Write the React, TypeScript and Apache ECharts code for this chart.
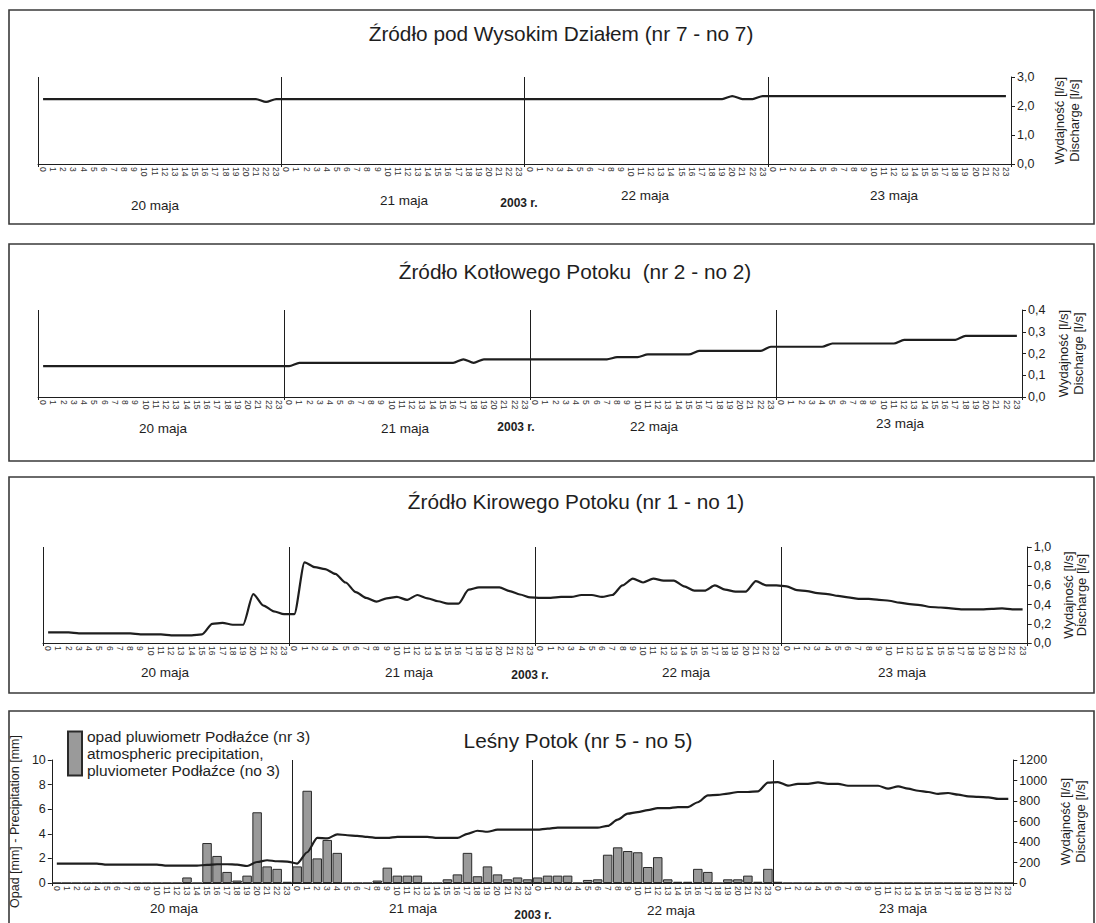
import React, { useEffect, useRef } from 'react';
import * as echarts from 'echarts';

const FONT = '"Liberation Sans", Arial, Helvetica, sans-serif';

const HOURS = ['0','1','2','3','4','5','6','7','8','9','10','11','12','13','14','15','16','17','18','19','20','21','22','23'];
const DAYS = ['20 maja', '21 maja', '22 maja', '23 maja'];
const YEAR_LABEL = '2003 r.';
const TITLES = [
  'Źródło pod Wysokim Działem (nr 7 - no 7)',
  'Źródło Kotłowego Potoku  (nr 2 - no 2)',
  'Źródło Kirowego Potoku (nr 1 - no 1)',
  'Leśny Potok (nr 5 - no 5)',
];
const DISCHARGE_NAME = 'Wydajność [l/s]\nDischarge [l/s]';
const PRECIP_AXIS_NAME = 'Opad [mm] - Precipitation [mm]';
const PRECIP_SERIES = 'opad pluwiometr Podłaźce (nr 3)\natmospheric precipitation,\npluviometer Podłaźce (no 3)';

// Źródło pod Wysokim Działem – discharge [l/s], hourly 20–23 May 2003
const spring7 = [
  2.24,2.24,2.24,2.24,2.24,2.24,2.24,2.24,2.24,2.24,2.24,2.24,2.24,2.24,2.24,2.24,2.24,2.24,2.24,2.24,2.24,2.24,2.14,2.24,
  2.24,2.24,2.24,2.24,2.24,2.24,2.24,2.24,2.24,2.24,2.24,2.24,2.24,2.24,2.24,2.24,2.24,2.24,2.24,2.24,2.24,2.24,2.24,2.24,
  2.24,2.24,2.24,2.24,2.24,2.24,2.24,2.24,2.24,2.24,2.24,2.24,2.24,2.24,2.24,2.24,2.24,2.24,2.24,2.24,2.34,2.24,2.24,2.34,
  2.34,2.34,2.34,2.34,2.34,2.34,2.34,2.34,2.34,2.34,2.34,2.34,2.34,2.34,2.34,2.34,2.34,2.34,2.34,2.34,2.34,2.34,2.34,2.34,
];

// Źródło Kotłowego Potoku – discharge [l/s]
const spring2 = [
  0.142,0.142,0.142,0.142,0.142,0.142,0.142,0.142,0.142,0.142,0.142,0.142,0.142,0.142,0.142,0.142,0.142,0.142,0.142,0.142,0.142,0.142,0.142,0.142,
  0.142,0.157,0.157,0.157,0.157,0.157,0.157,0.157,0.157,0.157,0.157,0.157,0.157,0.157,0.157,0.157,0.157,0.173,0.157,0.173,0.173,0.173,0.173,0.173,
  0.173,0.173,0.173,0.173,0.173,0.173,0.173,0.173,0.183,0.183,0.183,0.196,0.196,0.196,0.196,0.196,0.212,0.212,0.212,0.212,0.212,0.212,0.212,0.231,
  0.231,0.231,0.231,0.231,0.231,0.246,0.246,0.246,0.246,0.246,0.246,0.246,0.263,0.263,0.263,0.263,0.263,0.263,0.281,0.281,0.281,0.281,0.281,0.281,
];

// Źródło Kirowego Potoku – discharge [l/s]
const spring1 = [
  0.11,0.11,0.11,0.10,0.10,0.10,0.10,0.10,0.10,0.09,0.09,0.09,0.08,0.08,0.08,0.09,0.20,0.21,0.19,0.19,0.51,0.39,0.33,0.30,
  0.30,0.84,0.79,0.77,0.72,0.63,0.53,0.47,0.43,0.465,0.48,0.45,0.50,0.465,0.435,0.41,0.41,0.555,0.58,0.58,0.58,0.54,0.505,0.475,
  0.47,0.47,0.48,0.48,0.50,0.50,0.48,0.50,0.60,0.67,0.63,0.67,0.65,0.65,0.59,0.545,0.545,0.60,0.555,0.535,0.535,0.645,0.60,0.60,
  0.59,0.55,0.54,0.52,0.51,0.49,0.475,0.46,0.46,0.45,0.44,0.42,0.405,0.395,0.375,0.37,0.36,0.35,0.35,0.35,0.355,0.36,0.35,0.35,
];

// Leśny Potok – discharge [l/s]
const lesnyDischarge = [
  190,190,190,190,190,180,180,180,180,180,180,170,170,170,170,176,183,183,179,166,205,222,212,209,
  190,300,440,435,475,466,460,450,440,440,450,450,450,450,440,440,440,480,510,500,520,520,520,520,
  520,530,540,540,540,540,540,557,618,676,692,711,730,730,740,740,788,855,859,872,888,888,894,980,
  985,950,968,968,981,968,968,949,949,949,949,920,943,920,900,888,869,878,862,846,840,836,820,820,
];

// Pluviometer Podłaźce – precipitation [mm]
const lesnyPrecip = [
  0,0,0,0,0,0,0,0,0,0,0,0,0,0.45,0,3.25,2.2,0.9,0.2,0.6,5.75,1.35,1.15,0.1,
  1.35,7.5,2.0,3.5,2.45,0,0,0,0.2,1.25,0.6,0.6,0.6,0,0,0.3,0.7,2.45,0.55,1.35,0.7,0.3,0.45,0.3,
  0.45,0.6,0.6,0.6,0,0.25,0.3,2.3,2.9,2.6,2.5,1.3,2.1,0.3,0.1,0.1,1.15,0.9,0,0.3,0.3,0.6,0.1,1.15,
  0.1,0,0,0,0,0,0,0,0,0,0,0,0,0,0,0,0,0,0,0,0,0,0,0,
];

// layout (pixels)
const GRIDS = [
  { left: 38, top: 77, width: 973, height: 87 },
  { left: 38, top: 310, width: 984, height: 87 },
  { left: 43, top: 547, width: 989, height: 96 },
  { left: 46, top: 760, width: 986, height: 123 },
];
const PANELS = [
  { y: 10, h: 214 },
  { y: 244, h: 217 },
  { y: 477, h: 216 },
  { y: 711, h: 230 },
];
const TITLE_POS = [[561, 23], [575, 261], [576, 491], [578, 730]];
const DAY_LABEL_POS = [
  [[155, 205], [404, 200], [645, 195], [894, 195]],
  [[163, 428], [405, 428], [654, 426], [900, 423]],
  [[165, 672], [409, 672], [686, 672], [902, 672]],
  [[174, 908], [413, 908], [671, 910], [903, 908]],
];
const YEAR_POS = [[519, 203], [516, 427], [530, 675], [533, 915]];
const NAME_GAPS = [41, 33, 31, 34];

const categories: string[] = [];
DAYS.forEach(() => HOURS.forEach((h) => categories.push(h)));

const INK = '#1e1e1e';
const dayBoundary = (i: number) => i % 24 === 0;
const comma1 = (v: number) => v.toFixed(1).replace('.', ',');

function makeXAxis(gridIndex: number) {
  return {
    type: 'category',
    gridIndex,
    data: categories,
    boundaryGap: true,
    axisLine: { show: true, lineStyle: { color: INK, width: 1 } },
    axisTick: { show: true, interval: dayBoundary, length: 3, lineStyle: { color: INK } },
    axisLabel: { interval: 0, rotate: -90, fontSize: 8.5, color: '#333', margin: 3, fontFamily: FONT },
    splitLine: { show: true, interval: dayBoundary, lineStyle: { color: INK, width: 1, type: 'solid' } },
  };
}

function makeRightY(gridIndex: number, max: number, interval: number, formatter: any, nameGap: number, lineHeight: number) {
  return {
    type: 'value',
    gridIndex,
    position: 'right',
    min: 0,
    max,
    interval,
    name: DISCHARGE_NAME,
    nameLocation: 'middle',
    nameRotate: 90,
    nameGap,
    nameTextStyle: { fontSize: 13, color: INK, fontFamily: FONT, lineHeight },
    axisLine: { show: true, lineStyle: { color: INK, width: 1 } },
    axisTick: { show: true, length: 4, lineStyle: { color: INK } },
    axisLabel: { formatter, fontSize: 12.5, color: INK, margin: 6, fontFamily: FONT },
    splitLine: { show: false },
  };
}

const lineStyle = { width: 2.2, color: INK };

function lineSeries(data: number[], xi: number, yi: number, name: string) {
  return {
    type: 'line',
    name,
    xAxisIndex: xi,
    yAxisIndex: yi,
    data,
    showSymbol: false,
    symbol: 'none',
    smooth: 0.25,
    smoothMonotone: 'x',
    lineStyle,
    itemStyle: { color: INK },
    z: 4,
  };
}

export default function App() {
  const ref = useRef<HTMLDivElement>(null);
  useEffect(() => {
    if (!ref.current) return;
    const chart = echarts.init(ref.current, undefined, { renderer: 'svg' });

    const graphics: any[] = [];
    PANELS.forEach((p) => {
      graphics.push({
        type: 'rect',
        shape: { x: 9, y: p.y, width: 1085, height: p.h },
        style: { fill: 'none', stroke: '#3a3a3a', lineWidth: 1.6 },
        z: 0,
        silent: true,
      });
    });
    DAY_LABEL_POS.forEach((row) => {
      row.forEach((pos, d) => {
        graphics.push({
          type: 'text',
          x: pos[0],
          y: pos[1],
          style: { text: DAYS[d], fontSize: 13.5, fill: INK, fontFamily: FONT, textAlign: 'center', textVerticalAlign: 'middle' },
          silent: true,
        });
      });
    });
    YEAR_POS.forEach((pos) => {
      graphics.push({
        type: 'text',
        x: pos[0],
        y: pos[1],
        style: { text: YEAR_LABEL, fontSize: 12, fontWeight: 'bold', fill: INK, fontFamily: FONT, textAlign: 'center', textVerticalAlign: 'middle' },
        silent: true,
      });
    });

    const option: any = {
      animation: false,
      backgroundColor: '#ffffff',
      textStyle: { fontFamily: FONT },
      title: TITLES.map((t, i) => ({
        text: t,
        left: TITLE_POS[i][0],
        top: TITLE_POS[i][1],
        textAlign: 'center',
        padding: 0,
        textStyle: { fontSize: 20.8, fontWeight: 'normal', color: INK, fontFamily: FONT },
      })),
      legend: {
        data: [PRECIP_SERIES],
        left: 67,
        top: 728,
        icon: 'rect',
        itemWidth: 14,
        itemHeight: 44,
        selectedMode: false,
        padding: 0,
        textStyle: { fontSize: 15.5, lineHeight: 17, color: INK, fontFamily: FONT },
      },
      grid: GRIDS.map((g) => ({ ...g, containLabel: false })),
      xAxis: [makeXAxis(0), makeXAxis(1), makeXAxis(2), makeXAxis(3)],
      yAxis: [
        makeRightY(0, 3, 1, comma1, NAME_GAPS[0], 15),
        makeRightY(1, 0.4, 0.1, comma1, NAME_GAPS[1], 15),
        makeRightY(2, 1.0, 0.2, comma1, NAME_GAPS[2], 13),
        {
          type: 'value',
          gridIndex: 3,
          position: 'left',
          min: 0,
          max: 10,
          interval: 2,
          name: PRECIP_AXIS_NAME,
          nameLocation: 'middle',
          nameRotate: 90,
          nameGap: 20,
          nameTextStyle: { fontSize: 12.5, color: INK, fontFamily: FONT },
          axisLine: { show: true, lineStyle: { color: INK, width: 1 } },
          axisTick: { show: true, length: 4, lineStyle: { color: INK } },
          axisLabel: { fontSize: 12.5, color: INK, margin: 6, fontFamily: FONT },
          splitLine: { show: false },
        },
        makeRightY(3, 1200, 200, (v: number) => String(v), NAME_GAPS[3], 15),
      ],
      series: [
        lineSeries(spring7, 0, 0, 'Źródło pod Wysokim Działem'),
        lineSeries(spring2, 1, 1, 'Źródło Kotłowego Potoku'),
        lineSeries(spring1, 2, 2, 'Źródło Kirowego Potoku'),
        {
          type: 'bar',
          name: PRECIP_SERIES,
          xAxisIndex: 3,
          yAxisIndex: 3,
          data: lesnyPrecip,
          barCategoryGap: '5%',
          itemStyle: { color: '#9a9a9a', borderColor: '#2a2a2a', borderWidth: 1 },
          z: 2,
        },
        lineSeries(lesnyDischarge, 3, 4, 'Leśny Potok'),
      ],
      graphic: graphics,
    };
    chart.setOption(option);
    return () => chart.dispose();
  }, []);

  return (
    <div
      ref={ref}
      style={{ position: 'absolute', left: 0, top: 0, width: 1096, height: 923, background: '#fff' }}
    />
  );
}
